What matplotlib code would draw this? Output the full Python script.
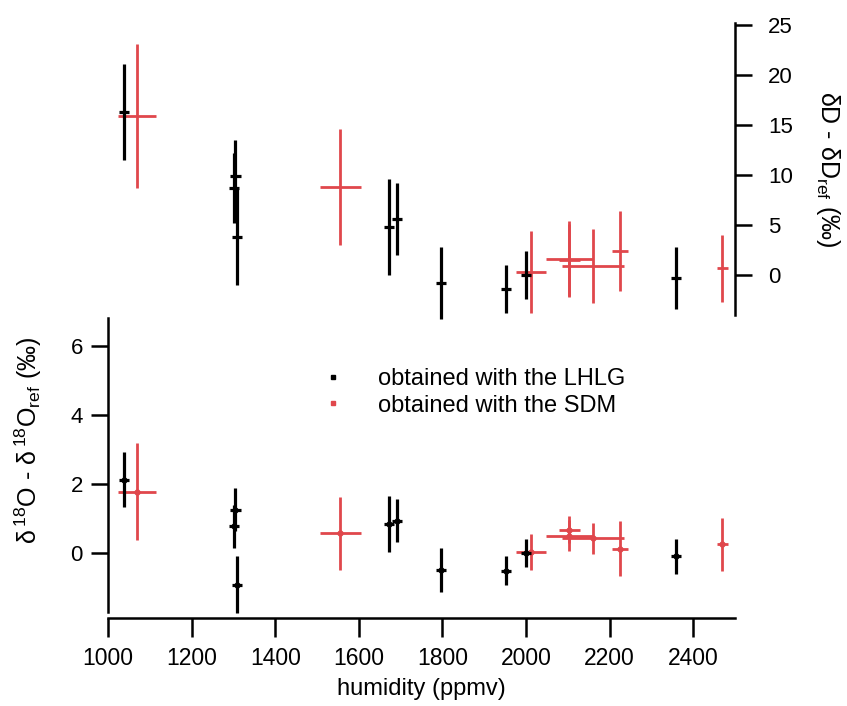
import matplotlib
matplotlib.use("Agg")
import matplotlib.pyplot as plt
from matplotlib.lines import Line2D

plt.rcParams['font.family'] = ['Liberation Sans', 'DejaVu Sans']
plt.rcParams['mathtext.fontset'] = 'custom'
plt.rcParams['mathtext.rm'] = 'Liberation Sans'
plt.rcParams['mathtext.it'] = 'Liberation Sans'

# LHLG measurements (black)
lhlg_h = [1038, 1305, 1302, 1309, 1673, 1692, 1796, 1953, 2000, 2358]
lhlg_h_err = [12, 12, 12, 12, 12, 12, 12, 12, 12, 12]
lhlg_dD = [16.3, 9.9, 8.7, 3.8, 4.8, 5.6, -0.8, -1.4, 0.0, -0.3]
lhlg_dD_err = [4.8, 3.6, 3.5, 4.8, 4.8, 3.6, 3.6, 2.4, 2.4, 3.1]
lhlg_d18O = [2.12, 1.25, 0.77, -0.92, 0.83, 0.94, -0.49, -0.52, 0.0, -0.1]
lhlg_d18O_err = [0.8, 0.62, 0.62, 0.82, 0.81, 0.63, 0.63, 0.42, 0.41, 0.52]

# SDM measurements (red)
sdm_h = [1070, 1556, 2012, 2104, 2104, 2160, 2225, 2470]
sdm_h_err = [45, 50, 37, 57, 25, 75, 19, 14]
sdm_dD = [15.9, 8.8, 0.3, 1.6, 1.5, 0.9, 2.4, 0.7]
sdm_dD_err = [7.2, 5.8, 4.1, 3.8, 3.6, 3.7, 4.0, 3.35]
sdm_d18O = [1.78, 0.57, 0.04, 0.5, 0.68, 0.43, 0.12, 0.25]
sdm_d18O_err = [1.41, 1.05, 0.52, 0.45, 0.4, 0.45, 0.8, 0.77]

x_ticks = [1000, 1200, 1400, 1600, 1800, 2000, 2200, 2400]
dD_ticks = [0, 5, 10, 15, 20, 25]
d18O_ticks = [0, 2, 4, 6]

RED = '#e0474c'
BLACK = 'black'

fig = plt.figure(figsize=(8.47, 7.06), dpi=100)
ax_top = fig.add_axes([0.1275, 0.5538, 0.7403, 0.4136])
ax_bot = fig.add_axes([0.1275, 0.1331, 0.7403, 0.4165])

# top panel: dD on right axis
ax_top.errorbar(lhlg_h, lhlg_dD, yerr=lhlg_dD_err, xerr=lhlg_h_err, fmt='none',
                ecolor=BLACK, elinewidth=2.3, capsize=0, clip_on=False, zorder=3)
ax_top.errorbar(sdm_h, sdm_dD, yerr=sdm_dD_err, xerr=sdm_h_err, fmt='none',
                ecolor=RED, elinewidth=2.0, capsize=0, clip_on=False, zorder=2)
ax_top.set_xlim(1000, 2500)
ax_top.set_ylim(-4, 25.2)
for s in ['left', 'top', 'bottom']:
    ax_top.spines[s].set_visible(False)
ax_top.spines['right'].set_linewidth(1.8)
ax_top.yaxis.tick_right()
ax_top.yaxis.set_label_position('right')
ax_top.set_yticks(dD_ticks)
ax_top.set_xticks([])
ax_top.tick_params(axis='y', direction='out', length=12, width=1.8, pad=12, labelsize=16)
ax_top.set_ylabel(r'$\delta$D - $\delta$D$_{\mathrm{ref}}$ (‰)', fontsize=18,
                  rotation=270)
ax_top.yaxis.set_label_coords(1.171, 0.5)
ax_top.patch.set_alpha(0)

# bottom panel: d18O on left axis
ax_bot.errorbar(lhlg_h, lhlg_d18O, yerr=lhlg_d18O_err, xerr=lhlg_h_err, fmt='o',
                color=BLACK, ms=3.5, ecolor=BLACK, elinewidth=2.3, capsize=0,
                clip_on=False, zorder=3)
ax_bot.errorbar(sdm_h, sdm_d18O, yerr=sdm_d18O_err, xerr=sdm_h_err, fmt='o',
                color=RED, ms=3.5, ecolor=RED, elinewidth=2.0, capsize=0,
                clip_on=False, zorder=2)
ax_bot.set_xlim(1000, 2500)
ax_bot.set_ylim(-1.71, 6.81)
for s in ['right', 'top']:
    ax_bot.spines[s].set_visible(False)
ax_bot.spines['left'].set_linewidth(1.8)
ax_bot.spines['bottom'].set_linewidth(1.8)
ax_bot.spines['bottom'].set_position(('outward', 4.5))
ax_bot.set_xticks(x_ticks)
ax_bot.set_yticks(d18O_ticks)
ax_bot.tick_params(axis='y', direction='out', length=12, width=1.8, pad=6, labelsize=16)
ax_bot.tick_params(axis='x', direction='out', length=14, width=1.8, pad=7, labelsize=16.5)
ax_bot.set_xlabel('humidity (ppmv)', fontsize=17)
ax_bot.xaxis.set_label_coords(0.5, -0.225)
ax_bot.set_ylabel(r'$\delta\,^{18}$O - $\delta\,^{18}$O$_{\mathrm{ref}}$ (‰)',
                  fontsize=18)
ax_bot.yaxis.set_label_coords(-0.102, 0.585)
ax_bot.patch.set_alpha(0)

handles = [Line2D([], [], marker='s', ls='none', color=BLACK, ms=3),
           Line2D([], [], marker='s', ls='none', color=RED, ms=3)]
ax_bot.legend(handles, ['obtained with the LHLG', 'obtained with the SDM'],
              loc='upper left', bbox_to_anchor=(0.325, 0.862), frameon=False,
              fontsize=17, handlelength=1.0, handletextpad=1.4, labelspacing=0.2,
              borderaxespad=0)

fig.savefig('out.png', dpi=100)
